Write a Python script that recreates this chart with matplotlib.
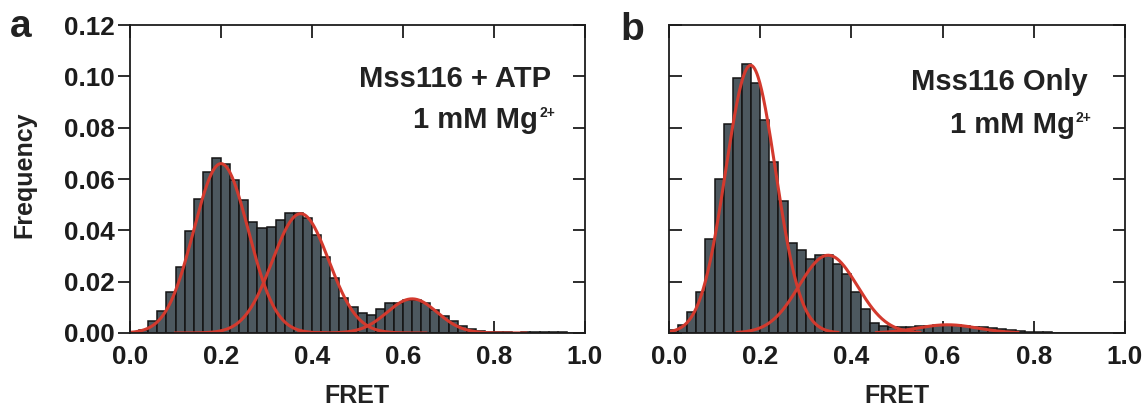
import numpy as np
import matplotlib
matplotlib.use("Agg")
import matplotlib.pyplot as plt

plt.rcParams["font.family"] = ["Liberation Sans", "DejaVu Sans"]
plt.rcParams["font.weight"] = "bold"

# FRET histograms, 50 bins of width 0.02
bin_left = np.round(np.arange(0, 1.0, 0.02), 2)

freq_atp = [0.0004, 0.0012, 0.0045, 0.0086, 0.0161, 0.0257, 0.0396, 0.0523, 0.0628, 0.0680,
            0.0657, 0.0596, 0.0519, 0.0432, 0.0409, 0.0412, 0.0441, 0.0468, 0.0468, 0.0449,
            0.0383, 0.0297, 0.0213, 0.0138, 0.0103, 0.0078, 0.0072, 0.0093, 0.0115, 0.0118,
            0.0128, 0.0127, 0.0115, 0.0090, 0.0066, 0.0046, 0.0028, 0.0016, 0.0008, 0.0005,
            0.0003, 0.0002, 0.0001, 0.0004, 0.0005, 0.0005, 0.0004, 0.0002, 0.0001, 0.0000]

freq_only = [0.0010, 0.0030, 0.0080, 0.0160, 0.0368, 0.0600, 0.0813, 0.0995, 0.1050, 0.0974,
             0.0830, 0.0666, 0.0514, 0.0350, 0.0323, 0.0288, 0.0305, 0.0305, 0.0270, 0.0228,
             0.0158, 0.0093, 0.0040, 0.0027, 0.0022, 0.0022, 0.0024, 0.0026, 0.0028, 0.0030,
             0.0030, 0.0030, 0.0028, 0.0025, 0.0022, 0.0018, 0.0014, 0.0010, 0.0007, 0.0005,
             0.0003, 0.0002, 0.0001, 0.0001, 0.0000, 0.0000, 0.0000, 0.0000, 0.0000, 0.0000]

# gaussian fit parameters: amplitude, centre, sigma, drawn range
fit_atp_amp = [0.066, 0.0465, 0.0133]
fit_atp_mu = [0.200, 0.375, 0.620]
fit_atp_sig = [0.060, 0.062, 0.055]
fit_atp_lo = [0.00, 0.10, 0.37]
fit_atp_hi = [0.43, 0.65, 0.87]

fit_only_amp = [0.1043, 0.0303, 0.0032]
fit_only_mu = [0.179, 0.349, 0.611]
fit_only_sig = [0.0547, 0.064, 0.065]
fit_only_lo = [0.00, 0.15, 0.455]
fit_only_hi = [0.37, 0.55, 0.765]

xticks = [0.0, 0.2, 0.4, 0.6, 0.8, 1.0]
yticks = [0.00, 0.02, 0.04, 0.06, 0.08, 0.10, 0.12]

bar_color = "#4d585f"
fit_color = "#d33a2e"
ink = "#1c1c1c"

W, H = 1145, 417
fig = plt.figure(figsize=(W / 100, H / 100), dpi=100)
ax1 = fig.add_axes([130 / W, 1 - 333 / H, 455 / W, 308 / H])
ax2 = fig.add_axes([669 / W, 1 - 333 / H, 456 / W, 308 / H])


def draw(ax, freq, amp, mu, sig, lo, hi):
    ax.bar(bin_left, freq, width=0.02, align="edge", color=bar_color,
           edgecolor="#141414", linewidth=1.1, zorder=2)
    for a, m, s, l, h in zip(amp, mu, sig, lo, hi):
        xx = np.linspace(l, h, 300)
        ax.plot(xx, a * np.exp(-(xx - m) ** 2 / (2 * s ** 2)), color=fit_color, lw=2.2, zorder=3)
    ax.set_xlim(0, 1.0)
    ax.set_ylim(0, 0.12)
    ax.set_xticks(xticks)
    ax.set_yticks(yticks)
    for sp in ax.spines.values():
        sp.set_linewidth(1.3)
        sp.set_color(ink)
        sp.set_zorder(4)
    ax.tick_params(axis="x", top=True, direction="in", length=9, width=1.3, color=ink,
                   labelsize=18.8, pad=9, labelcolor=ink)
    ax.tick_params(axis="y", direction="in", length=9, width=1.3, color=ink,
                   labelsize=18.8, pad=2, labelcolor=ink)
    # inward ticks on the right side
    sec = ax.secondary_yaxis("right")
    sec.set_yticks(yticks)
    sec.tick_params(direction="in", length=9, width=1.3, color=ink, labelright=False)
    sec.spines["right"].set_visible(False)


draw(ax1, freq_atp, fit_atp_amp, fit_atp_mu, fit_atp_sig, fit_atp_lo, fit_atp_hi)
draw(ax2, freq_only, fit_only_amp, fit_only_mu, fit_only_sig, fit_only_lo, fit_only_hi)

ax1.set_yticklabels([f"{v:.2f}" for v in yticks])
ax1.tick_params(axis="y", direction="out", length=9)
ax2.set_yticklabels([])


def px(x, y):
    return x / W, 1 - y / H


def label_block(x_right, y1, y2, line1):
    fig.text(*px(x_right, y1), line1, fontsize=21, fontweight="bold", ha="right",
             va="baseline", color="#222222")
    fig.text(*px(x_right - 13, y2), "1 mM Mg", fontsize=21, fontweight="bold", ha="right",
             va="baseline", color="#222222")
    fig.text(*px(x_right - 12, y2 - 11), "2+", fontsize=10, fontweight="bold", ha="left",
             va="baseline", color="#222222")


label_block(551, 87, 128, "Mss116 + ATP")
label_block(1088, 90, 133, "Mss116 Only")

fig.text(*px(24, 175), "Frequency", rotation=90, fontsize=18, fontweight="bold",
         ha="center", va="center", color="#222222")
fig.text(*px(357, 396), "FRET", fontsize=18, fontweight="bold", ha="center", va="center", color="#222222")
fig.text(*px(897, 396), "FRET", fontsize=18, fontweight="bold", ha="center", va="center", color="#222222")

fig.text(*px(21, 27), "a", fontsize=28, fontweight="bold", ha="center", va="center", color="#222222")
fig.text(*px(632, 30), "b", fontsize=28, fontweight="bold", ha="center", va="center", color="#222222")

fig.savefig("out.png", dpi=100)
